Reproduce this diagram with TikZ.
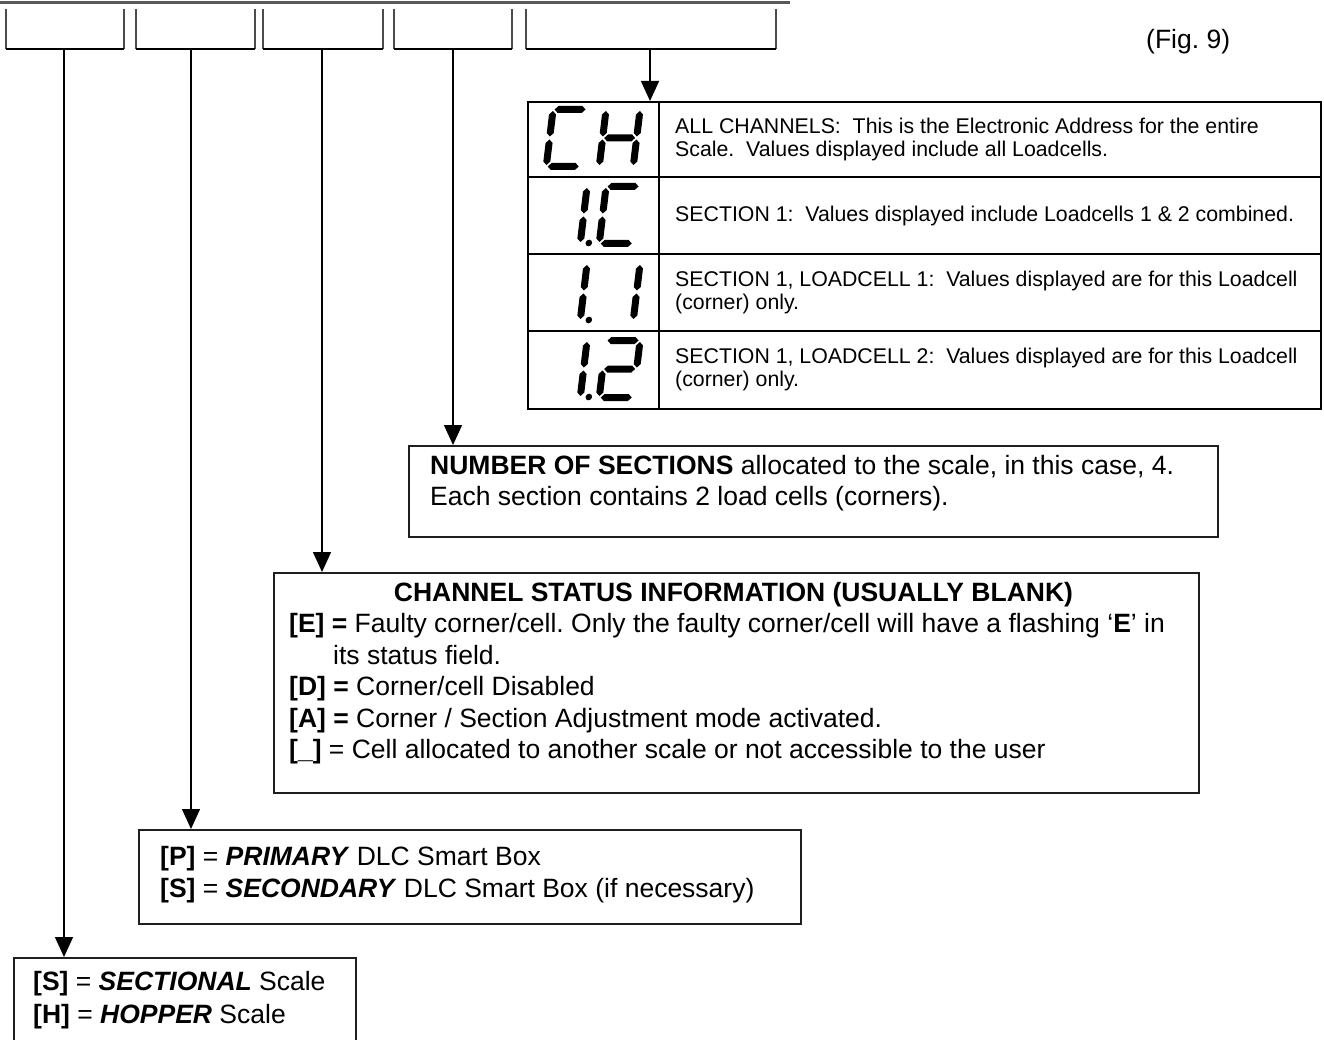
\documentclass[tikz,border=0pt]{standalone}
\usepackage{fontspec}
\setmainfont{Liberation Sans}
\usetikzlibrary{arrows.meta}
% LCD segment helpers (local coords, y downward)
\newcommand\lcdH[3]{\fill (#1,#3) -- (#1+3.5,#3-3.5) -- (#2-3.5,#3-3.5) -- (#2,#3) -- (#2-3.5,#3+3.5) -- (#1+3.5,#3+3.5) -- cycle;}
\newcommand\lcdV[3]{\fill (#1,#2) -- (#1+3.5,#2+3.5) -- (#1+3.5,#3-3.5) -- (#1,#3) -- (#1-3.5,#3-3.5) -- (#1-3.5,#2+3.5) -- cycle;}
\newcommand\sgA{\lcdH{5}{36}{3.5}}
\newcommand\sgG{\lcdH{5}{36}{32}}
\newcommand\sgD{\lcdH{5}{36}{60.5}}
\newcommand\sgF{\lcdV{3.5}{5}{30.5}}
\newcommand\sgE{\lcdV{3.5}{33.5}{59}}
\newcommand\sgB{\lcdV{37.5}{5}{30.5}}
\newcommand\sgC{\lcdV{37.5}{33.5}{59}}
\newcommand\sgP{\fill (46,60) circle (3.3);}
\newcommand\lcddigit[3]{\begin{scope}[shift={(#1,#2)}]\begin{scope}[xslant=0.12]#3\end{scope}\end{scope}}
\begin{document}
\frenchspacing
\begin{tikzpicture}[x=1pt,y=-1pt,
  body/.style={font=\fontsize{26.5}{31}\selectfont, inner sep=0pt, anchor=base west},
  celltext/.style={font=\fontsize{21.3}{23}\selectfont, inner sep=0pt, anchor=west, align=left},
  box/.style={draw=black!88, line width=1.5pt, inner sep=0pt, anchor=north west},
  conn/.style={line width=1.5pt, -{Triangle[width=18pt,length=20pt]}},
  bracketside/.style={draw=black!70, line width=1.8pt},
  bracketbase/.style={draw=black, line width=1.8pt}]
\useasboundingbox (0,0) rectangle (1324,1040);
\fill[white] (0,0) rectangle (1324,1040);
% top rule
\draw[black!65, line width=3pt] (0,2.5) -- (790,2.5);
% brackets
\foreach \xa/\xb in {6/124,136/255,263/383,394/512,526/776}{
  \draw[bracketside] (\xa,9) -- (\xa,49);
  \draw[bracketside] (\xb,9) -- (\xb,49);
  \draw[bracketbase] (\xa,49) -- (\xb,49);
}
\coordinate (s1) at (64,50);
\coordinate (s2) at (191,50);
\coordinate (s3) at (322,50);
\coordinate (s4) at (453,50);
\coordinate (s5) at (650,50);
% fig label
\node[body] (fig) at (1146,49) {(Fig. 9)};
% table
\node[box, line width=1.8pt, draw=black, minimum width=793pt, minimum height=307pt] (tbl) at (527,101) {};
\draw[line width=1.8pt] (659,101) -- (659,408);
\draw[line width=1.8pt] (527,177) -- (1320,177);
\draw[line width=1.8pt] (527,254) -- (1320,254);
\draw[line width=1.8pt] (527,331) -- (1320,331);
\node[celltext] (t1) at (675,139) {ALL CHANNELS:\ \ This is the Electronic Address for the entire\\Scale.\ \ Values displayed include all Loadcells.};
\node[celltext] (t2) at (675,215.5) {SECTION 1:\ \ Values displayed include Loadcells 1 \& 2 combined.};
\node[celltext] (t3) at (675,292.5) {SECTION 1, LOADCELL 1:\ \ Values displayed are for this Loadcell\\(corner) only.};
\node[celltext] (t4) at (675,369.5) {SECTION 1, LOADCELL 2:\ \ Values displayed are for this Loadcell\\(corner) only.};
% LCD glyphs
\lcddigit{550}{106}{\sgA\sgD\sgE\sgF}
\lcddigit{603}{106}{\sgB\sgC\sgE\sgF\sgG}
\lcddigit{550}{183}{\sgB\sgC\sgP}
\lcddigit{603}{183}{\sgA\sgD\sgE\sgF}
\lcddigit{550}{260}{\sgB\sgC\sgP}
\lcddigit{603}{260}{\sgB\sgC}
\lcddigit{550}{337}{\sgB\sgC\sgP}
\lcddigit{603}{337}{\sgA\sgB\sgG\sgE\sgD}
% number of sections box
\node[box, minimum width=809pt, minimum height=91pt] (nbox) at (408,445) {};
\node[body] (n1) at (430,474) {\textbf{NUMBER OF SECTIONS} allocated to the scale, in this case, 4.};
\node[body] (n2) at (430,505) {Each section contains 2 load cells (corners).};
% channel status box
\node[box, minimum width=925pt, minimum height=220pt] (cbox) at (273,572) {};
\node[body, anchor=base] (c0) at (733.5,601) {\textbf{CHANNEL STATUS INFORMATION (USUALLY BLANK)}};
\node[body] (c1) at (289,632.5) {\textbf{[E] =} Faulty corner/cell. Only the faulty corner/cell will have a flashing ‘\textbf{E}’ in};
\node[body] (c2) at (333,664) {its status field.};
\node[body] (c3) at (289,695.5) {\textbf{[D] =} Corner/cell Disabled};
\node[body] (c4) at (289,727) {\textbf{[A] =} Corner / Section Adjustment mode activated.};
\node[body] (c5) at (289,758.5) {\textbf{[\_]} = Cell allocated to another scale or not accessible to the user};
% primary/secondary box
\node[box, minimum width=662pt, minimum height=94pt] (pbox) at (138,829) {};
\node[body] (p1) at (160,865) {\textbf{[P]} = \textbf{\textit{PRIMARY}} DLC Smart Box};
\node[body] (p2) at (160,897) {\textbf{[S]} = \textbf{\textit{SECONDARY}} DLC Smart Box (if necessary)};
% sectional/hopper box
\node[box, minimum width=342pt, minimum height=100pt] (sbox) at (13,957) {};
\node[body] (h1) at (33,990) {\textbf{[S]} = \textbf{\textit{SECTIONAL}} Scale};
\node[body] (h2) at (33,1023) {\textbf{[H]} = \textbf{\textit{HOPPER}} Scale};
% connectors
\draw[conn] (s1) -- (s1 |- sbox.north);
\draw[conn] (s2) -- (s2 |- pbox.north);
\draw[conn] (s3) -- (s3 |- cbox.north);
\draw[conn] (s4) -- (s4 |- nbox.north);
\draw[conn] (s5) -- (s5 |- tbl.north);
\end{tikzpicture}
\end{document}
